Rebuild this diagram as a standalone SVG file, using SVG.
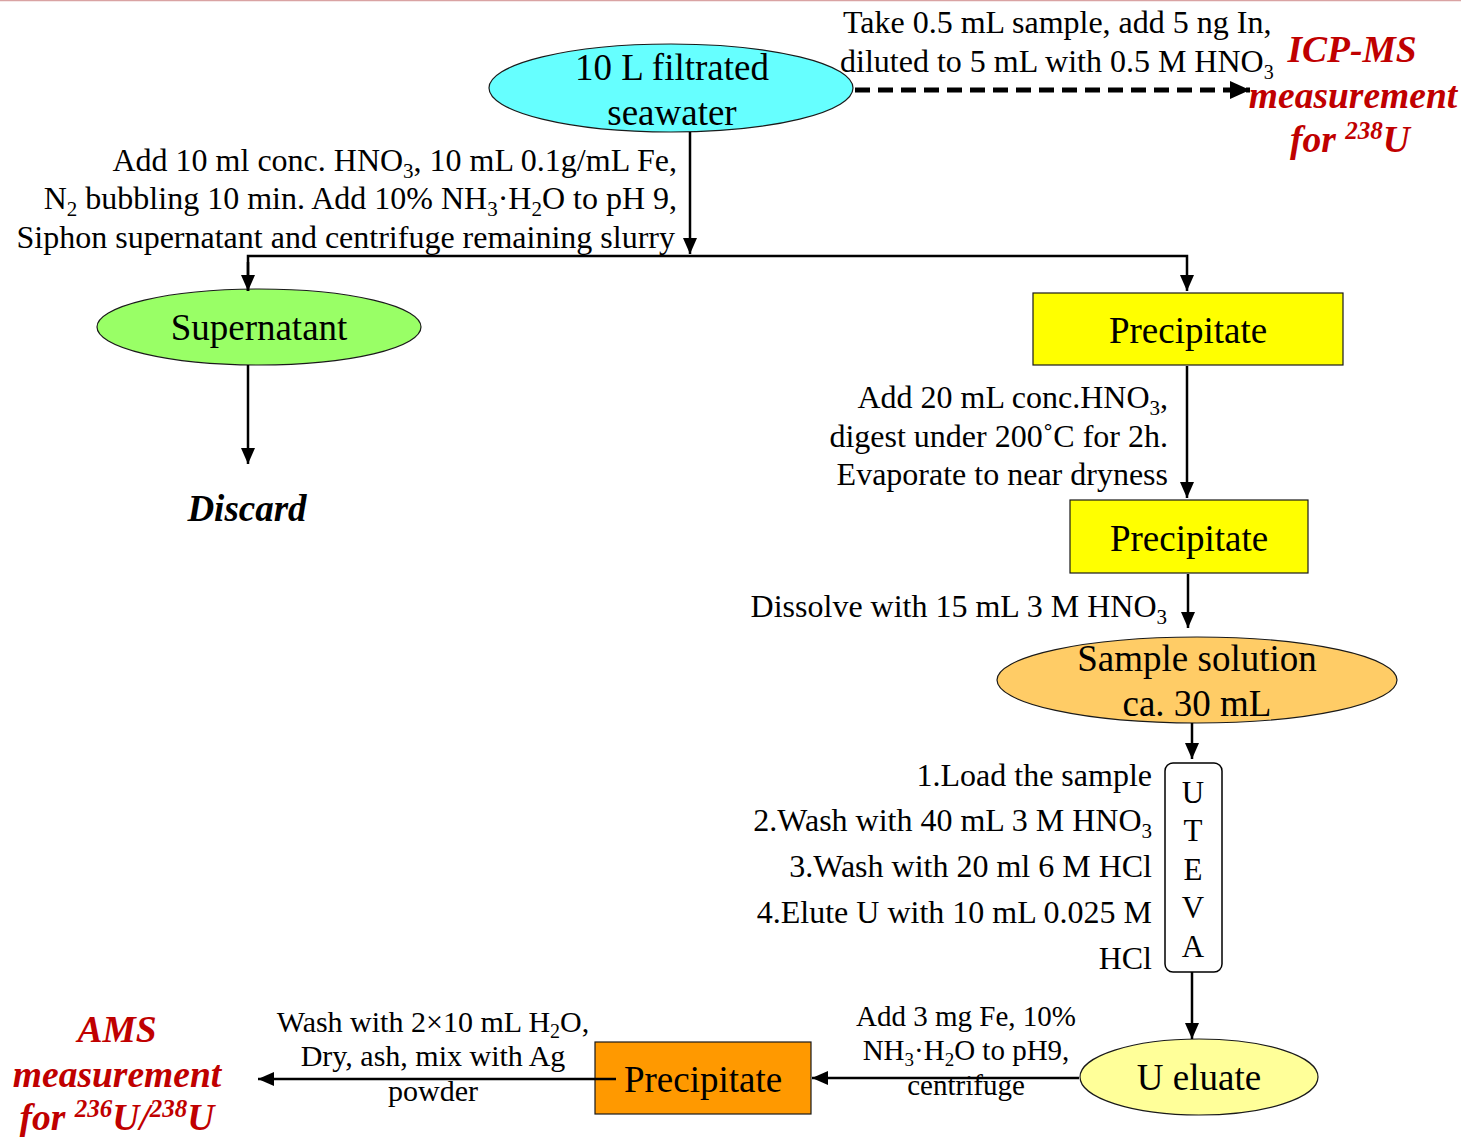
<svg xmlns="http://www.w3.org/2000/svg" width="1461" height="1137" viewBox="0 0 1461 1137">
<defs>
<style>
text{font-family:"Liberation Serif","Times New Roman",serif;fill:#000}
.lbl{font-size:32px}
.sm{font-size:30px}
.title{font-size:37px;text-anchor:middle}
.red{font-size:37.5px;font-weight:bold;font-style:italic;fill:#c00000;text-anchor:middle}
.con{stroke:#000;stroke-width:2.5;fill:none}
.dash{stroke:#000;stroke-width:5;stroke-dasharray:15,8;fill:none}
.node{stroke:#1a1a1a;stroke-width:1.2}
</style>
<marker id="ah" markerUnits="userSpaceOnUse" markerWidth="16" markerHeight="14" refX="16" refY="7" orient="auto">
<path d="M0,0 L16,7 L0,14 z" fill="#000"/>
</marker>
<marker id="ahb" markerUnits="userSpaceOnUse" markerWidth="20" markerHeight="18" refX="20" refY="9" orient="auto">
<path d="M0,0 L20,9 L0,18 z" fill="#000"/>
</marker>
</defs>
<rect width="1461" height="1137" fill="#fff"/>
<line x1="0" y1="0.5" x2="1461" y2="0.5" stroke="#d9a3a3" stroke-width="1.5"/>

<g id="seawater">
<ellipse class="node" cx="671" cy="88" rx="182" ry="44" fill="#66ffff"/>
<text class="title" x="672" y="80">10 L filtrated</text>
<text class="title" x="672" y="125">seawater</text>
</g>

<g id="label-icp">
<text class="lbl" x="843" y="33">Take 0.5 mL sample, add 5 ng In,</text>
<text class="lbl" x="840" y="72">diluted to 5 mL with 0.5 M HNO<tspan font-size="20" dy="7">3</tspan></text>
</g>

<g id="icpms">
<text class="red" x="1352" y="62">ICP-MS</text>
<text class="red" x="1353" y="108">measurement</text>
<text class="red" x="1350" y="152">for <tspan font-size="25" dy="-13">238</tspan><tspan dy="13">U</tspan></text>
</g>

<g id="label-step1">
<text class="lbl" x="677" y="171" text-anchor="end">Add 10 ml conc. HNO<tspan font-size="21" dy="7">3</tspan><tspan dy="-7">, 10 mL 0.1g/mL Fe,</tspan></text>
<text class="lbl" x="677" y="209" text-anchor="end">N<tspan font-size="21" dy="7">2</tspan><tspan dy="-7"> bubbling 10 min. Add 10% NH</tspan><tspan font-size="21" dy="7">3</tspan><tspan dy="-7">·H</tspan><tspan font-size="21" dy="7">2</tspan><tspan dy="-7">O to pH 9,</tspan></text>
<text class="lbl" x="675" y="248" text-anchor="end">Siphon supernatant and centrifuge remaining slurry</text>
</g>

<g id="supernatant">
<ellipse class="node" cx="259" cy="327" rx="162" ry="38" fill="#99ff66"/>
<text class="title" x="259" y="340">Supernatant</text>
</g>

<g id="discard">
<text x="247" y="521" font-size="37" font-weight="bold" font-style="italic" text-anchor="middle">Discard</text>
</g>

<g id="precipitate1">
<rect class="node" x="1033" y="293" width="310" height="72" fill="#ffff00"/>
<text class="title" x="1188" y="343">Precipitate</text>
</g>

<g id="label-step2">
<text class="lbl" x="1168" y="408" text-anchor="end">Add 20 mL conc.HNO<tspan font-size="21" dy="7">3</tspan><tspan dy="-7">,</tspan></text>
<text class="lbl" x="1168" y="447" text-anchor="end">digest under 200˚C for 2h.</text>
<text class="lbl" x="1168" y="485" text-anchor="end">Evaporate to near dryness</text>
</g>

<g id="precipitate2">
<rect class="node" x="1070" y="500" width="238" height="73" fill="#ffff00"/>
<text class="title" x="1189" y="551">Precipitate</text>
</g>

<g id="label-step3">
<text class="lbl" x="1167" y="617" text-anchor="end">Dissolve with 15 mL 3 M HNO<tspan font-size="21" dy="7">3</tspan></text>
</g>

<g id="sample-solution">
<ellipse class="node" cx="1197" cy="680" rx="200" ry="43" fill="#ffcc66"/>
<text class="title" x="1197" y="671">Sample solution</text>
<text class="title" x="1197" y="716">ca. 30 mL</text>
</g>

<g id="teva">
<rect x="1165" y="763" width="57" height="209" rx="8" ry="8" fill="#fff" stroke="#000" stroke-width="1.5"/>
<text x="1193" y="803" font-size="31" text-anchor="middle">U</text>
<text x="1193" y="841" font-size="31" text-anchor="middle">T</text>
<text x="1193" y="880" font-size="31" text-anchor="middle">E</text>
<text x="1193" y="918" font-size="31" text-anchor="middle">V</text>
<text x="1193" y="957" font-size="31" text-anchor="middle">A</text>
</g>

<g id="label-teva">
<text class="lbl" x="1152" y="786" text-anchor="end">1.Load the sample</text>
<text class="lbl" x="1152" y="831" text-anchor="end">2.Wash with 40 mL 3 M HNO<tspan font-size="21" dy="7">3</tspan></text>
<text class="lbl" x="1152" y="877" text-anchor="end">3.Wash with 20 ml 6 M HCl</text>
<text class="lbl" x="1152" y="923" text-anchor="end">4.Elute U with 10 mL 0.025 M</text>
<text class="lbl" x="1152" y="969" text-anchor="end">HCl</text>
</g>

<g id="u-eluate">
<ellipse class="node" cx="1199" cy="1077" rx="119" ry="38" fill="#ffff99"/>
<text class="title" x="1199" y="1090">U eluate</text>
</g>

<g id="label-step5">
<text x="966" y="1026" font-size="29" text-anchor="middle">Add 3 mg Fe, 10%</text>
<text x="966" y="1060" font-size="29" text-anchor="middle">NH<tspan font-size="19" dy="6">3</tspan><tspan dy="-6">·H</tspan><tspan font-size="19" dy="6">2</tspan><tspan dy="-6">O to pH9,</tspan></text>
<text x="966" y="1095" font-size="29" text-anchor="middle">centrifuge</text>
</g>

<g id="precipitate3">
<rect class="node" x="595" y="1042" width="216" height="72" fill="#ff9900"/>
<text class="title" x="703" y="1092">Precipitate</text>
</g>

<g id="label-step6">
<text class="sm" x="433" y="1032" text-anchor="middle">Wash with 2×10 mL H<tspan font-size="20" dy="6">2</tspan><tspan dy="-6">O,</tspan></text>
<text class="sm" x="433" y="1066" text-anchor="middle">Dry, ash, mix with Ag</text>
<text class="sm" x="433" y="1101" text-anchor="middle">powder</text>
</g>

<g id="ams">
<text class="red" x="117" y="1042">AMS</text>
<text class="red" x="117" y="1087">measurement</text>
<text class="red" x="117" y="1130">for <tspan font-size="25" dy="-13">236</tspan><tspan dy="13">U/</tspan><tspan font-size="25" dy="-13">238</tspan><tspan dy="13">U</tspan></text>
</g>

<g id="connectors">
<line class="dash" x1="855" y1="90" x2="1250" y2="90" marker-end="url(#ahb)"/>
<line class="con" x1="690" y1="132" x2="690" y2="254" marker-end="url(#ah)"/>
<polyline class="con" points="248,291 248,256 1187,256 1187,291" marker-end="url(#ah)"/>
<line class="con" x1="248" y1="262" x2="248" y2="291" marker-end="url(#ah)"/>
<line class="con" x1="248" y1="365" x2="248" y2="464" marker-end="url(#ah)"/>
<line class="con" x1="1187" y1="366" x2="1187" y2="498" marker-end="url(#ah)"/>
<line class="con" x1="1188" y1="574" x2="1188" y2="628" marker-end="url(#ah)"/>
<line class="con" x1="1192" y1="723" x2="1192" y2="759" marker-end="url(#ah)"/>
<line class="con" x1="1192" y1="972" x2="1192" y2="1039" marker-end="url(#ah)"/>
<line class="con" x1="1079" y1="1078" x2="812" y2="1078" marker-end="url(#ah)"/>
<line class="con" x1="616" y1="1079" x2="258" y2="1079" marker-end="url(#ah)"/>
</g>
</svg>
